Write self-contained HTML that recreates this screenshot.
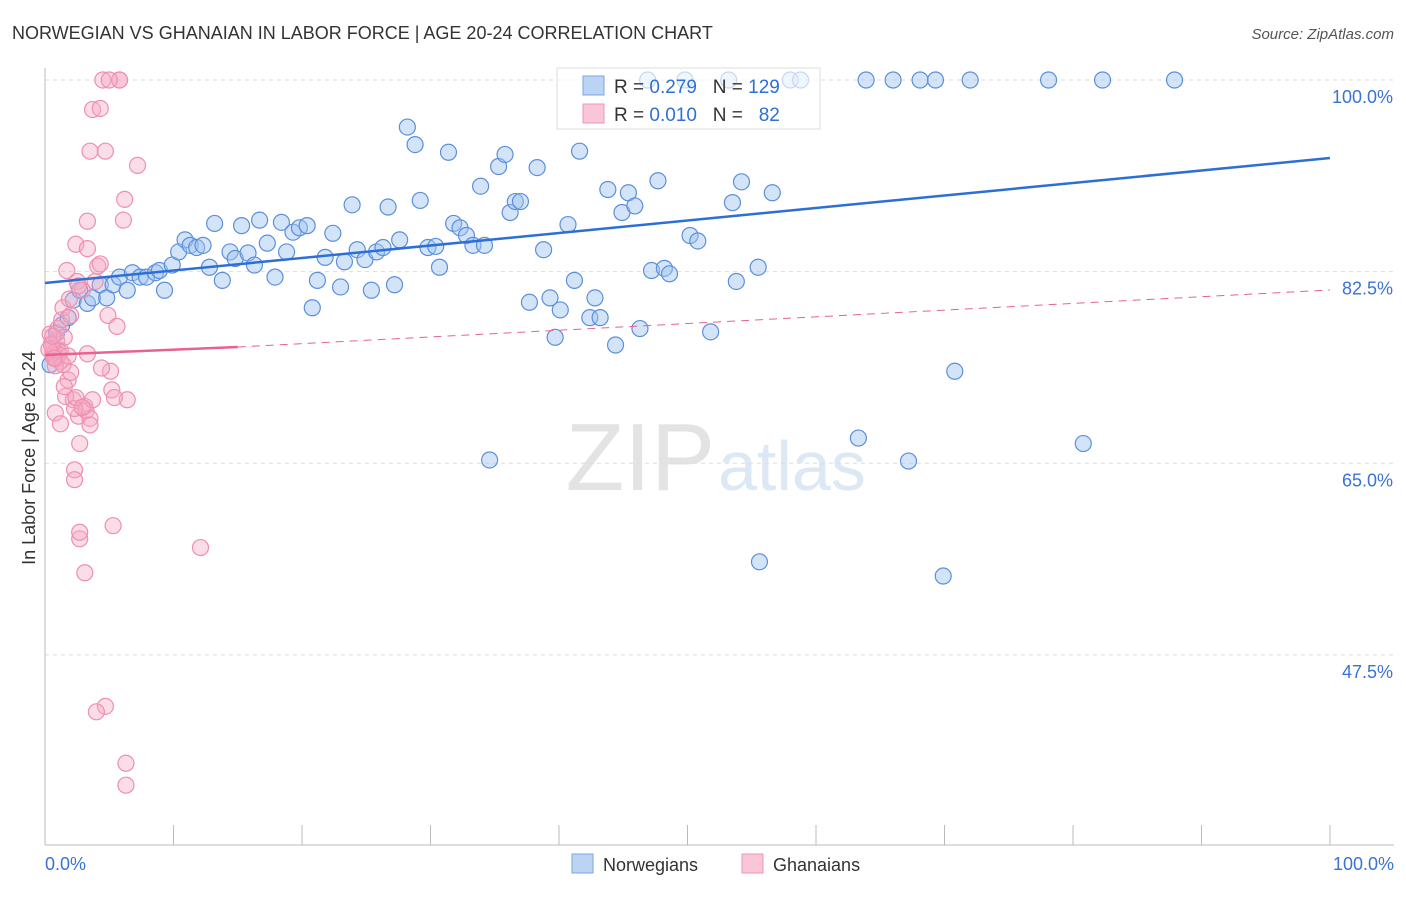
<!DOCTYPE html>
<html><head><meta charset="utf-8"><style>
body{margin:0;background:#fff;font-family:"Liberation Sans",sans-serif;}
svg text{font-family:"Liberation Sans",sans-serif;}
</style></head><body>
<svg id="c" width="1406" height="892">
<text x="12" y="39" font-size="18" fill="#333">NORWEGIAN VS GHANAIAN IN LABOR FORCE | AGE 20-24 CORRELATION CHART</text>
<text x="1394" y="39" font-size="15" fill="#555" font-style="italic" text-anchor="end">Source: ZipAtlas.com</text>
<text x="35" y="458" font-size="18" fill="#333" text-anchor="middle" transform="rotate(-90 35 458)">In Labor Force | Age 20-24</text>
<text x="715" y="490" font-size="96" fill="#e3e3e3" text-anchor="end" font-family="Liberation Serif">ZIP</text>
<text x="718" y="490" font-size="70" fill="#dde8f5">atlas</text>
<g id="grid"></g><g id="pts"></g><g id="lines"></g>
<rect x="557" y="68" width="263" height="61" fill="rgba(255,255,255,0.65)" stroke="#ddd"/>
<rect x="583" y="76" width="21" height="19" fill="#bcd4f3" stroke="#7aa6e0"/>
<rect x="583" y="104" width="21" height="19" fill="#f8c6d6" stroke="#ee95b2"/>
<text x="614" y="93" font-size="19" fill="#333">R = <tspan fill="#2f6fd6">0.279</tspan>&#160;&#160;&#160;N = <tspan fill="#2f6fd6">129</tspan></text>
<text x="614" y="121" font-size="19" fill="#333">R = <tspan fill="#2f6fd6">0.010</tspan>&#160;&#160;&#160;N = &#160;&#160;<tspan fill="#2f6fd6">82</tspan></text>
<rect x="572" y="854" width="21" height="19" fill="#bcd4f3" stroke="#7aa6e0"/>
<text x="603" y="871" font-size="18" fill="#333">Norwegians</text>
<rect x="742" y="854" width="21" height="19" fill="#f8c6d6" stroke="#ee95b2"/>
<text x="773" y="871" font-size="18" fill="#333">Ghanaians</text>
</svg>
<script>
const yTicks=[100,82.5,65,47.5];
const yTickLabels=["100.0%","82.5%","65.0%","47.5%"];
const xTickLabels=["0.0%","100.0%"];
const blueX=[0.9,1.3,1.8,2.2,2.7,3.3,3.7,4.3,4.8,5.3,5.8,6.4,6.8,7.4,7.9,8.6,8.9,9.3,9.9,10.4,10.9,11.3,11.8,12.3,12.8,13.2,13.8,14.4,14.8,15.3,15.8,16.3,16.7,17.3,17.9,18.4,18.8,19.3,19.8,20.4,20.8,21.2,21.8,22.4,23.0,23.3,23.9,24.3,24.9,25.4,25.8,26.3,26.7,27.2,27.6,28.2,28.8,29.2,29.8,30.4,30.7,31.4,31.8,32.3,32.8,33.3,33.9,34.2,34.6,35.3,35.8,36.2,36.6,37.0,37.7,38.3,38.8,39.3,39.7,40.1,40.7,41.2,41.6,42.4,42.8,43.2,43.8,44.4,44.9,45.4,45.9,46.3,46.9,47.2,47.7,48.2,48.6,49.8,50.2,50.8,51.8,53.2,53.5,53.8,54.2,55.5,55.6,56.6,58.0,58.8,63.3,63.9,66.0,67.2,68.1,69.3,69.9,70.8,72.0,78.1,80.8,82.3,87.9,0.4];
const blueY=[76.9,77.6,78.3,79.9,80.8,79.6,80.1,81.3,80.1,81.3,82.0,80.8,82.4,82.0,82.0,82.4,82.6,80.8,83.1,84.3,85.4,84.9,84.7,84.9,82.9,86.9,81.7,84.3,83.7,86.7,84.2,83.1,87.2,85.1,82.0,87.0,84.3,86.1,86.5,86.7,79.2,81.7,83.8,86.0,81.1,83.4,88.6,84.5,83.6,80.8,84.3,84.7,88.4,81.3,85.4,95.7,94.1,89.0,84.7,84.8,82.9,93.4,86.9,86.5,85.8,84.9,90.3,84.9,65.3,92.1,93.2,87.9,88.9,88.9,79.7,92.0,84.5,80.1,76.5,79.0,86.8,81.7,93.5,78.3,80.1,78.3,90.0,75.8,87.9,89.7,88.5,77.3,100,82.6,90.8,82.8,82.3,100,85.8,85.3,77.0,100,88.8,81.6,90.7,82.9,56.0,89.7,100,100,67.3,100,100,65.2,100,100,54.7,73.4,100,100,66.8,100,100,74.0];
const pinkX=[0.4,0.5,0.6,0.8,0.9,1.0,1.2,1.3,1.5,1.7,1.8,2.0,2.2,2.3,2.3,2.4,2.5,2.6,2.7,2.7,2.7,2.9,3.1,3.2,3.3,3.3,3.5,3.5,3.7,3.7,3.9,4.1,4.3,4.3,4.5,4.7,4.7,4.9,5.1,5.2,5.3,5.6,5.8,6.1,6.2,6.3,6.3,5.8,6.4,7.2,12.1,0.8,1.2,1.6,2.3,3.1,5.0,1.4,2.0,0.6,0.7,0.9,1.0,1.1,1.2,0.5,0.8,1.4,1.8,2.4,2.9,3.5,4.0,0.3,0.6,1.9,2.6,3.3,0.7,1.5,4.4,5.4];
const pinkY=[76.8,75.9,75.1,74.6,76.2,77.3,75.3,78.1,76.5,82.6,72.6,73.3,70.8,64.4,63.5,85.0,81.6,69.3,58.1,58.7,66.8,80.8,70.2,69.8,87.1,84.6,93.5,69.1,70.8,97.3,81.6,83.0,97.4,83.2,100,42.8,93.5,78.5,73.4,71.7,59.3,77.5,100,87.2,89.1,37.6,35.6,100,70.8,92.2,57.3,69.6,68.6,71.1,70.0,55.0,100,79.2,78.5,75.5,75.0,74.5,75.3,74.9,74.3,75.8,73.9,74.0,74.8,71.0,70.1,68.5,42.3,75.4,76.6,80.0,81.2,75.0,74.6,72.0,73.7,71.0];
const X=v=>45+v*12.85, Y=v=>80+(100-v)*10.95;
const NS="http://www.w3.org/2000/svg";
const mk=(p,t,a)=>{const e=document.createElementNS(NS,t);for(const k in a)e.setAttribute(k,a[k]);document.getElementById(p).appendChild(e);return e;};
yTicks.forEach((t,i)=>{
 const g=mk('grid','line',{x1:45,x2:1394,y1:Y(t),y2:Y(t),stroke:'#ddd','stroke-dasharray':'4,4'});
 
 
 const l=mk('grid','text',{x:1393,y:Y(t)+23,'font-size':18,fill:'#3a72d6','text-anchor':'end'});l.textContent=yTickLabels[i];
 
 
});
const ax=mk('grid','line',{x1:45,x2:45,y1:68,y2:845,stroke:'#bbb'});


const bx=mk('grid','line',{x1:45,x2:1394,y1:845,y2:845,stroke:'#bbb'});


for(let i=0;i<=10;i++){const t=mk('grid','line',{x1:X(i*10),x2:X(i*10),y1:825,y2:845,stroke:'#bbb'});
 
 }
[[0,'start',45],[100,'end',1394]].forEach((d,i)=>{const l=mk('grid','text',{x:d[2],y:870,'font-size':18,fill:'#3a72d6','text-anchor':d[1]});l.textContent=xTickLabels[i];
 
 });
blueX.forEach((v,i)=>{const c=mk('pts','circle',{cx:X(v),cy:Y(blueY[i]),r:8,fill:'rgba(160,195,240,0.45)',stroke:'#5b8fdc','stroke-width':1.2});
 
 });
pinkX.forEach((v,i)=>{const c=mk('pts','circle',{cx:X(v),cy:Y(pinkY[i]),r:8,fill:'rgba(245,170,195,0.4)',stroke:'#ee8fb0','stroke-width':1.2});
 
 });
const b=mk('lines','line',{x1:X(0),y1:283,x2:X(100),y2:158,stroke:'#2d6fd6','stroke-width':2.5});


const p=mk('lines','line',{x1:X(0),y1:355,x2:X(15),y2:347,stroke:'#e8628f','stroke-width':2.5});


const pd=mk('lines','line',{x1:X(15),y1:347,x2:X(100),y2:290,stroke:'#e8628f','stroke-width':1,'stroke-dasharray':'8,6'});


</script>
</body></html>
